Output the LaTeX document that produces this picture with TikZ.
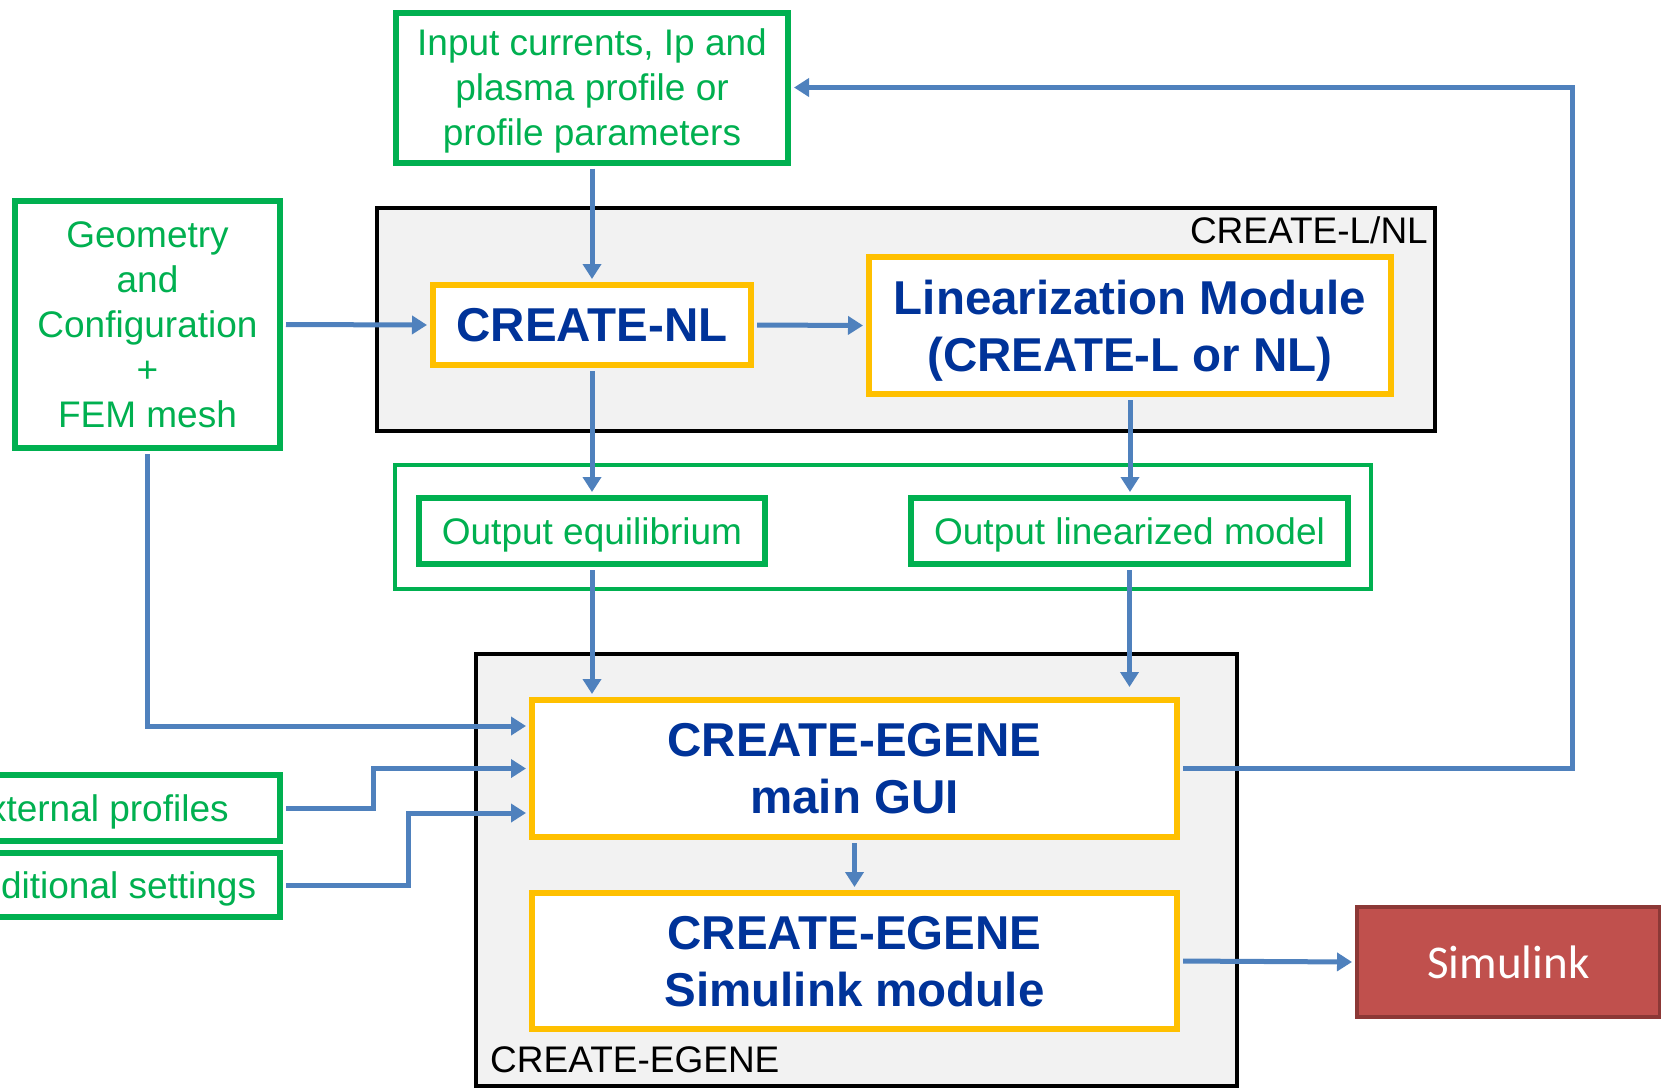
\documentclass[tikz,border=0pt]{standalone}
\usepackage{fontspec}
\setmainfont{Liberation Sans}
\newfontfamily\simfont{Carlito}
\usetikzlibrary{arrows.meta, positioning, calc}
\definecolor{boxgreen}{HTML}{00B050}
\definecolor{boxyellow}{HTML}{FFC000}
\definecolor{arrowblue}{HTML}{4F81BD}
\definecolor{titleblue}{HTML}{003399}
\definecolor{groupgray}{HTML}{F2F2F2}
\definecolor{simred}{HTML}{C0504D}
\definecolor{simredborder}{HTML}{8C3836}

\begin{document}
\begin{tikzpicture}[x=1pt, y=-1pt, align=center,
    inbox/.style={draw=boxgreen, line width=6pt, fill=white, text=boxgreen, inner sep=0pt, text depth=0pt, font=\fontsize{37}{45}\selectfont},
    modbox/.style={draw=boxyellow, line width=6pt, fill=white, text=titleblue, inner sep=0pt, text depth=0pt, font=\fontsize{47.5}{57}\selectfont\bfseries},
    groupbox/.style={draw=black, line width=4.5pt, fill=groupgray, inner sep=0pt},
    grouplabel/.style={font=\fontsize{37}{45}\selectfont, inner sep=0pt},
    flow/.style={draw=arrowblue, line width=5pt, -{Triangle[length=15pt, width=18pt]}, shorten >=3pt, shorten <=3pt}]
    \useasboundingbox (0,0) rectangle (1661,1088);
    \clip (0,0) rectangle (1661,1088);

    % Draw the group boxes
    \node[groupbox, minimum width=1058pt, minimum height=223pt] (lnl) at (906,319.5) {};
    \node[grouplabel, anchor=base east] (lnllabel) at (1428,243.6) {CREATE-L/NL};
    \node[draw=boxgreen, line width=4pt, minimum width=976pt, minimum height=124pt] (outgrp) at (883,527) {};
    \node[groupbox, minimum width=761pt, minimum height=432pt] (egene) at (856.5,870) {};
    \node[grouplabel, anchor=base west] (egenelabel) at (490,1072) {CREATE-EGENE};

    % Draw the inputs
    \node[inbox, minimum width=392pt, minimum height=150pt] (inp) at (592,87.5) {Input currents, Ip and\\plasma profile or\\profile parameters};
    \node[inbox, minimum width=265pt, minimum height=247pt] (geo) at (147.5,324.5) {Geometry\\and\\Configuration\\+\\FEM mesh};
    \node[inbox, minimum width=368pt, minimum height=66pt] (ext) at (96,808) {External profiles};
    \node[inbox, minimum width=348pt, minimum height=64pt] (add) at (106,885) {Additional settings};

    % Draw the modules
    \node[modbox, minimum width=318pt, minimum height=80pt] (nl) at (592,325) {CREATE-NL};
    \node[modbox, minimum width=522pt, minimum height=137pt] (lin) at (1130,325.5) {Linearization Module\\(CREATE-L or NL)};
    \node[modbox, minimum width=645pt, minimum height=137pt] (gui) at (854.5,768.5) {CREATE-EGENE\\main GUI};
    \node[modbox, minimum width=645pt, minimum height=136pt] (simmod) at (854.5,961) {CREATE-EGENE\\Simulink module};

    % Draw the outputs
    \node[inbox, minimum width=346pt, minimum height=66pt] (oeq) at (592,531) {Output equilibrium};
    \node[inbox, minimum width=437pt, minimum height=66pt] (olin) at (1129.5,531) {Output linearized model};
    \node[draw=simredborder, fill=simred, line width=4pt, text=white, font=\simfont\fontsize{47}{56}\selectfont, minimum width=303pt, minimum height=110pt] (sim) at (1508.5,962) {Simulink};

    % Draw the arrows
    \draw[flow] (inp.south) -- (nl.north);
    \draw[flow] (geo.east) -- (nl.west);
    \draw[flow] (nl.east) -- (lin.west);
    \draw[flow] (nl.south) -- (oeq.north);
    \draw[flow] (lin.south) -- (lin.south |- olin.north);
    \draw[flow] (oeq.south) -- (oeq.south |- gui.north);
    \draw[flow, shorten >=10pt] (olin.south) -- (olin.south |- gui.north);
    \draw[flow] (geo.south) |- ([yshift=42.5pt]gui.west);
    \draw[flow] (ext.east) -- ++(90,0) |- (gui.west);
    \draw[flow] (add.east) -- ++(125,0) |- ([yshift=-44.5pt]gui.west);
    \draw[flow] (gui.east) -- ++(392,0) |- (inp.east);
    \draw[flow] (gui.south) -- (simmod.north);
    \draw[flow] (simmod.east) -- (sim.west);
\end{tikzpicture}
\end{document}
